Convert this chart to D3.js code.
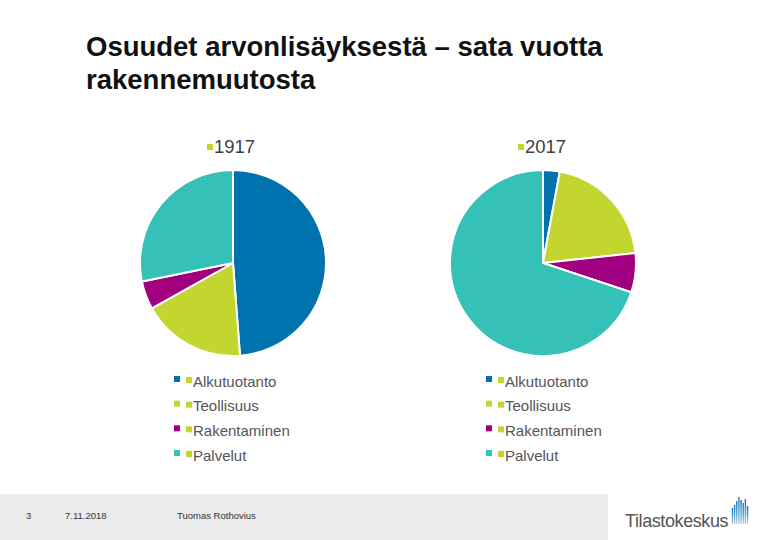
<!DOCTYPE html>
<html>
<head>
<meta charset="utf-8">
<script src="https://cdn.jsdelivr.net/npm/d3@7"></script>
<style>
  body { margin: 0; background: #fff; }
  svg { display: block; font-family: "Liberation Sans", Arial, sans-serif; }
</style>
</head>
<body>
<div id="chart"></div>
<script>
// data
var categories = ["Alkutuotanto", "Teollisuus", "Rakentaminen", "Palvelut"];
var colors = ["#0072ae", "#c3d62f", "#a0007f", "#35c0b8"];
var years = ["1917", "2017"];
var values1917 = [48.8, 18.1, 4.9, 28.2];
var values2017 = [2.9, 20.4, 6.8, 69.9];
var footerTexts = ["3", "7.11.2018", "Tuomas Rothovius"];
var logoBars = [4, 7, 11, 15, 12, 9, 13, 6]; // icon bar heights

var W = 780, H = 540;
var svg = d3.select("#chart").append("svg").attr("width", W).attr("height", H);

// title
var title = svg.append("text").attr("x", 86).attr("y", 56)
  .attr("font-size", 27.5).attr("font-weight", "bold").attr("fill", "#111");
title.append("tspan").attr("x", 86).text("Osuudet arvonlisäyksestä – sata vuotta");
title.append("tspan").attr("x", 86).attr("dy", 33).text("rakennemuutosta");

var pie = d3.pie().sort(null).value(function(d) { return d; });
var arc = d3.arc().innerRadius(0).outerRadius(93);
var color = d3.scaleOrdinal().domain(categories).range(colors);

var panels = [
  { year: years[0], values: values1917, cx: 233, cy: 263, titleX: 207, legX: 174 },
  { year: years[1], values: values2017, cx: 543, cy: 263, titleX: 518, legX: 486 }
];

panels.forEach(function(p) {
  // series title with marker
  var t = svg.append("g");
  t.append("rect").attr("x", p.titleX).attr("y", 144).attr("width", 6).attr("height", 6)
    .attr("fill", colors[1]);
  t.append("text").attr("x", p.titleX + 7).attr("y", 153).attr("font-size", 18.5)
    .attr("fill", "#404040").text(p.year);

  var g = svg.append("g").attr("transform", "translate(" + p.cx + "," + p.cy + ")");
  g.selectAll("path").data(pie(p.values)).enter().append("path")
    .attr("d", arc)
    .attr("fill", function(d, i) { return color(categories[i]); })
    .attr("stroke", "#fff").attr("stroke-width", 2);

  var yScale = d3.scalePoint().domain(categories).range([381, 455]);
  var leg = svg.append("g").selectAll("g").data(categories).enter().append("g")
    .attr("transform", function(d) { return "translate(" + p.legX + "," + yScale(d) + ")"; });
  leg.append("rect").attr("x", 0).attr("y", -5).attr("width", 6).attr("height", 6)
    .attr("fill", function(d) { return color(d); });
  leg.append("rect").attr("x", 12).attr("y", -4).attr("width", 6).attr("height", 6)
    .attr("fill", colors[1]);
  leg.append("text").attr("x", 19).attr("y", 5.5).attr("font-size", 15)
    .attr("fill", "#555").text(function(d) { return d; });
});

// footer
svg.append("rect").attr("x", 0).attr("y", 494).attr("width", 608).attr("height", 46)
  .attr("fill", "#ebebeb");
var fx = [26, 65, 177];
svg.selectAll(".foot").data(footerTexts).enter().append("text")
  .attr("class", "foot")
  .attr("x", function(d, i) { return fx[i]; }).attr("y", 519)
  .attr("font-size", 9.5).attr("fill", "#333").text(function(d) { return d; });

// logo
svg.append("text").attr("x", 625).attr("y", 527).attr("font-size", 18)
  .attr("fill", "#555").attr("letter-spacing", -0.4).text("Tilastokeskus");
var bx = d3.scaleBand().domain(d3.range(logoBars.length)).range([731, 749]).padding(0.35);
var grad = svg.append("defs").append("linearGradient").attr("id", "lg")
  .attr("x1", 0).attr("y1", 0).attr("x2", 0).attr("y2", 1);
grad.append("stop").attr("offset", "0%").attr("stop-color", "#1a6fb5");
grad.append("stop").attr("offset", "55%").attr("stop-color", "#4fa3d9");
grad.append("stop").attr("offset", "100%").attr("stop-color", "#d0d0d0");
svg.selectAll(".lb").data(logoBars).enter().append("rect").attr("class", "lb")
  .attr("x", function(d, i) { return bx(i); })
  .attr("y", function(d) { return 512 - d; })
  .attr("width", bx.bandwidth())
  .attr("height", function(d) { return d + 12; })
  .attr("fill", "url(#lg)");
</script>
</body>
</html>
